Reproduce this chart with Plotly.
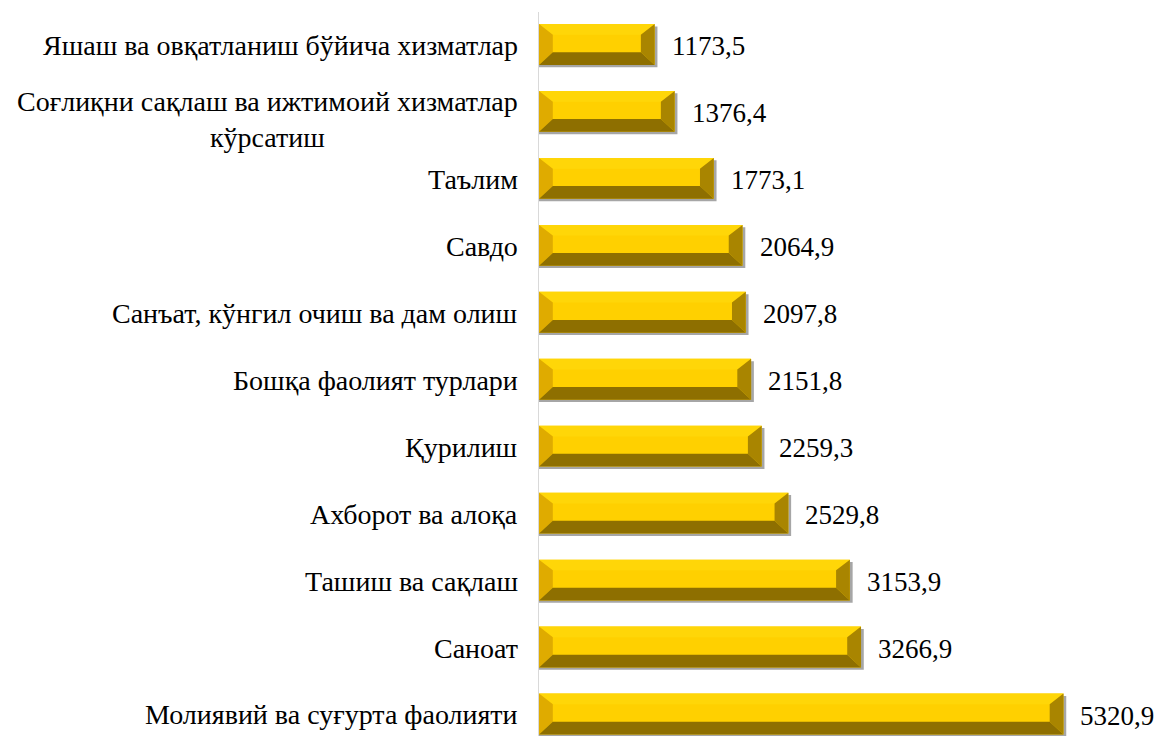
import plotly.graph_objects as go

categories = [
    "Яшаш ва овқатланиш бўйича хизматлар",
    "Соғлиқни сақлаш ва ижтимоий хизматлар<br>кўрсатиш",
    "Таълим",
    "Савдо",
    "Санъат, кўнгил очиш ва дам олиш",
    "Бошқа фаолият турлари",
    "Қурилиш",
    "Ахборот ва алоқа",
    "Ташиш ва сақлаш",
    "Саноат",
    "Молиявий ва суғурта фаолияти",
]
values = [1173.5, 1376.4, 1773.1, 2064.9, 2097.8, 2151.8, 2259.3, 2529.8, 3153.9, 3266.9, 5320.9]

FONT = "Liberation Serif"
idx = list(range(len(values)))

W = 0.61           # bar thickness (category units)
HW = W / 2
BX = 140           # bevel width in x data units
BY = 0.19          # bevel height in category units
TY = 0.16          # top bevel height
SX, SY = 28, 0.035 # shadow offset

fig = go.Figure()

# shadow
fig.add_trace(go.Bar(
    y=idx, x=[v + SX for v in values], orientation="h", width=W, offset=-HW + SY,
    marker=dict(color="#A6A6A6", line=dict(width=0)), hoverinfo="skip", showlegend=False,
))
# face
fig.add_trace(go.Bar(
    y=idx, x=values, orientation="h", width=W, offset=-HW,
    marker=dict(color="#FFD000", line=dict(width=0)), showlegend=False,
    hovertemplate="%{x:.1f}<extra></extra>",
))


def poly_trace(fn, color):
    xs, ys = [], []
    for i, v in zip(idx, values):
        px, py = fn(i, v)
        xs += px + [px[0], None]
        ys += py + [py[0], None]
    return go.Scatter(x=xs, y=ys, mode="lines", fill="toself", fillcolor=color,
                      line=dict(width=0), hoverinfo="skip", showlegend=False)


# top bevel
fig.add_trace(poly_trace(lambda i, v: ([0, BX, v - BX, v],
                                       [i - HW, i - HW + TY, i - HW + TY, i - HW]), "#FFD608"))
# left bevel
fig.add_trace(poly_trace(lambda i, v: ([0, BX, BX, 0],
                                       [i - HW, i - HW + TY, i + HW - BY, i + HW]), "#DFAB00"))
# right bevel
fig.add_trace(poly_trace(lambda i, v: ([v, v - BX, v - BX, v],
                                       [i - HW, i - HW + TY, i + HW - BY, i + HW]), "#A98500"))
# bottom bevel
fig.add_trace(poly_trace(lambda i, v: ([0, BX, v - BX, v],
                                       [i + HW, i + HW - BY, i + HW - BY, i + HW]), "#8E6F00"))

annotations = []
for i, (c, v) in enumerate(zip(categories, values)):
    annotations.append(dict(
        x=0, xref="paper", y=i, yref="y", text=c, showarrow=False,
        xanchor="right", yanchor="middle", align="center", xshift=-19,
        yshift=-8 if "<br>" in c else -1,
        font=dict(family=FONT, size=28, color="#000000"),
    ))
    annotations.append(dict(
        x=v, xref="x", y=i, yref="y", text=f"{v:.1f}".replace(".", ","), showarrow=False,
        xanchor="left", yanchor="middle", xshift=15, yshift=-2,
        font=dict(family=FONT, size=27, color="#000000"),
    ))

fig.update_layout(
    width=1160, height=736,
    margin=dict(l=539, r=0, t=12, b=0),
    paper_bgcolor="white", plot_bgcolor="white",
    barmode="overlay",
    annotations=annotations,
    xaxis=dict(range=[0, 6300], visible=False, showgrid=False, zeroline=False),
    yaxis=dict(range=[10.329, -0.485], showgrid=False, zeroline=False,
               showticklabels=False, showline=True, linecolor="#D9D9D9", linewidth=1,
               ticks=""),
    showlegend=False,
)

fig.write_html("out.html", config={"displayModeBar": False},
               post_script="document.body.style.margin='0';document.body.style.overflow='hidden';")
